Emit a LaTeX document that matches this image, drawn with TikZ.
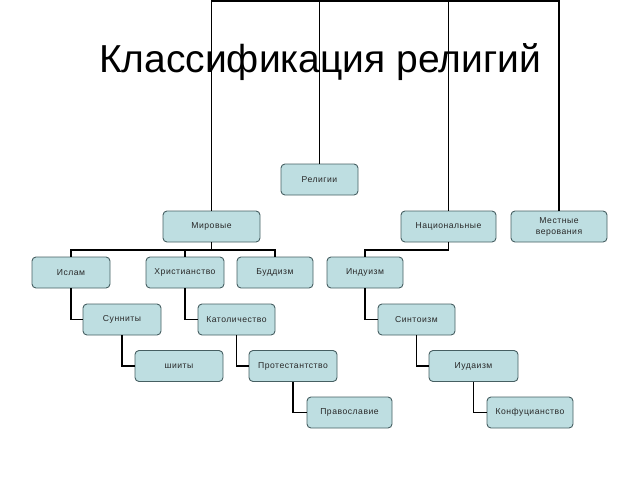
\documentclass[tikz,border=0pt]{standalone}
\usepackage{fontspec}
\setmainfont{Liberation Sans}
\newfontfamily\boxfont[LetterSpace=6]{Liberation Sans}
\definecolor{boxfill}{RGB}{190,222,225}
\definecolor{boxdraw}{RGB}{70,95,98}
\definecolor{boxtext}{RGB}{40,40,40}
\begin{document}
\begin{tikzpicture}[x=1pt,y=-1pt,
  rbox/.style={draw=boxdraw,fill=boxfill,line width=0.9pt,rounded corners=4pt,
    minimum height=31pt,inner sep=1pt,align=center,text=boxtext,
    font=\boxfont\fontsize{8.6}{11}\selectfont},
  conn/.style={line width=1.9pt,black},
  topl/.style={line width=1.8pt,black}]
\useasboundingbox (0,0) rectangle (640,480);
\node[font=\fontsize{39}{46}\selectfont] (title) at (320,62) {Классификация религий};
\node[rbox,minimum width=77pt] (rel) at (319.5,179.5) {Религии};
\node[rbox,minimum width=97pt] (mir) at (211.5,226.5) {Мировые};
\node[rbox,minimum width=95pt] (nac) at (448.5,226.5) {Национальные};
\node[rbox,minimum width=96pt] (mes) at (559,226.5) {Местные\\верования};
\node[rbox,minimum width=78pt] (isl) at (71,272.5) {Ислам};
\node[rbox,minimum width=78pt] (hri) at (185,272.5) {Христианство};
\node[rbox,minimum width=76pt] (bud) at (275,272.5) {Буддизм};
\node[rbox,minimum width=76pt] (ind) at (365,272.5) {Индуизм};
\node[rbox,minimum width=78pt] (sun) at (122,319.5) {Сунниты};
\node[rbox,minimum width=77pt] (kat) at (236.5,319.5) {Католичество};
\node[rbox,minimum width=77pt] (sin) at (416.5,319.5) {Синтоизм};
\node[rbox,minimum width=88pt] (shi) at (179,366) {шииты};
\node[rbox,minimum width=88pt] (pro) at (293,366) {Протестантство};
\node[rbox,minimum width=89pt] (iud) at (473.5,366) {Иудаизм};
\node[rbox,minimum width=85pt] (pra) at (349.5,412.5) {Православие};
\node[rbox,minimum width=86pt] (kon) at (530,412.5) {Конфуцианство};
% top connectors
\coordinate (tl) at (211.5,1);
\coordinate (tr) at (559,1);
\draw[topl] (mir.north) -- (mir.north |- tl) -- (mes.north |- tr) -- (mes.north);
\draw[topl] (rel.north) -- (rel.north |- tl);
\draw[topl] (nac.north) -- (nac.north |- tl);
% Мировые group
\coordinate (mbus) at (0,250);
\draw[conn] (mir.south) -- (mir.south |- mbus);
\draw[conn] (isl.north) -- (isl.north |- mbus) -- (bud.north |- mbus) -- (bud.north);
\draw[conn] (hri.north) -- (hri.north |- mbus);
% Национальные group
\draw[conn] (nac.south) -- (nac.south |- mbus) -- (ind.north |- mbus) -- (ind.north);
% chains
\draw[conn] (isl.south) |- (sun.west);
\draw[conn] (sun.south) |- (shi.west);
\draw[conn] (hri.south) |- (kat.west);
\draw[conn] (kat.south) |- (pro.west);
\draw[conn] (pro.south) |- (pra.west);
\draw[conn] (ind.south) |- (sin.west);
\draw[conn] (sin.south) |- (iud.west);
\draw[conn] (iud.south) |- (kon.west);
\end{tikzpicture}
\end{document}
